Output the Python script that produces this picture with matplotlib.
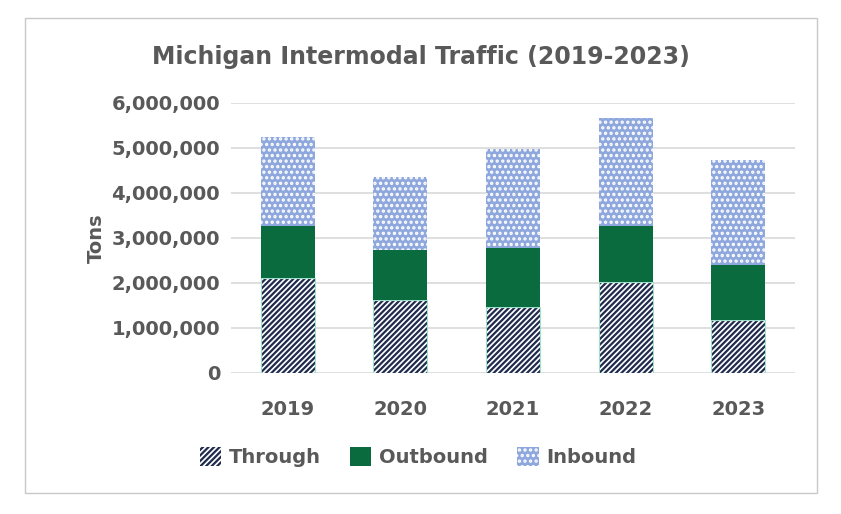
import matplotlib.pyplot as plt
import matplotlib.patches as mpatches
from matplotlib.ticker import FuncFormatter

years = ['2019', '2020', '2021', '2022', '2023']
through = [2100000, 1610000, 1450000, 2010000, 1160000]
outbound = [1160000, 1110000, 1320000, 1250000, 1230000]
inbound = [1980000, 1630000, 2200000, 2410000, 2340000]

plt.rcParams['font.family'] = 'DejaVu Sans'
plt.rcParams['hatch.linewidth'] = 1.6
fig = plt.figure(figsize=(8.41, 5.14), dpi=100)
ax = fig.add_axes([0.275, 0.275, 0.67, 0.525])
fig.patches.append(mpatches.Rectangle((0.03, 0.04), 0.942, 0.925, transform=fig.transFigure,
                                      fill=False, edgecolor='#c8c8c8', lw=1))

x = range(len(years))
w = 0.48
bot2 = [a + b for a, b in zip(through, outbound)]
plt.rcParams['hatch.color'] = '#1f2a4d'
ax.bar(x, through, w, color='white', edgecolor='#1f2a4d', hatch='//////', lw=0, label='Through')
ax.bar(x, through, w, fill=False, edgecolor='#9fe0c8', lw=0.8)
ax.bar(x, outbound, w, bottom=through, color='#0a6b3e', lw=0, label='Outbound')
ax.bar(x, inbound, w, bottom=bot2, color='#8ea7dd', edgecolor='white', hatch='...', lw=0, label='Inbound')

ax.set_ylim(0, 6000000)
ax.set_xlim(-0.5, 4.5)
ax.yaxis.set_major_formatter(FuncFormatter(lambda v, p: '0' if v == 0 else f'{int(v):,}'))
ax.grid(axis='y', color='#d9d9d9', lw=1.2)
ax.set_axisbelow(True)
for s in ax.spines.values():
    s.set_visible(False)
ax.tick_params(length=0, labelsize=14, labelcolor='#595959', pad=8)
ax.tick_params(axis='x', pad=20)
for t in ax.get_xticklabels() + ax.get_yticklabels():
    t.set_fontweight('bold')
ax.set_xticks(list(x))
ax.set_xticklabels(years)
ax.set_ylabel('Tons', fontsize=14, fontweight='bold', color='#595959')
fig.text(0.5, 0.875, 'Michigan Intermodal Traffic (2019-2023)', ha='center', fontsize=17,
         fontweight='bold', color='#595959')
leg = fig.legend(loc='center', bbox_to_anchor=(0.497, 0.11), ncol=3, frameon=False,
                 prop={'size': 14, 'weight': 'bold'}, handlelength=1.1, handleheight=1.1,
                 columnspacing=1.5, handletextpad=0.4)
for t in leg.get_texts():
    t.set_color('#595959')
fig.savefig('out.png', dpi=100)
